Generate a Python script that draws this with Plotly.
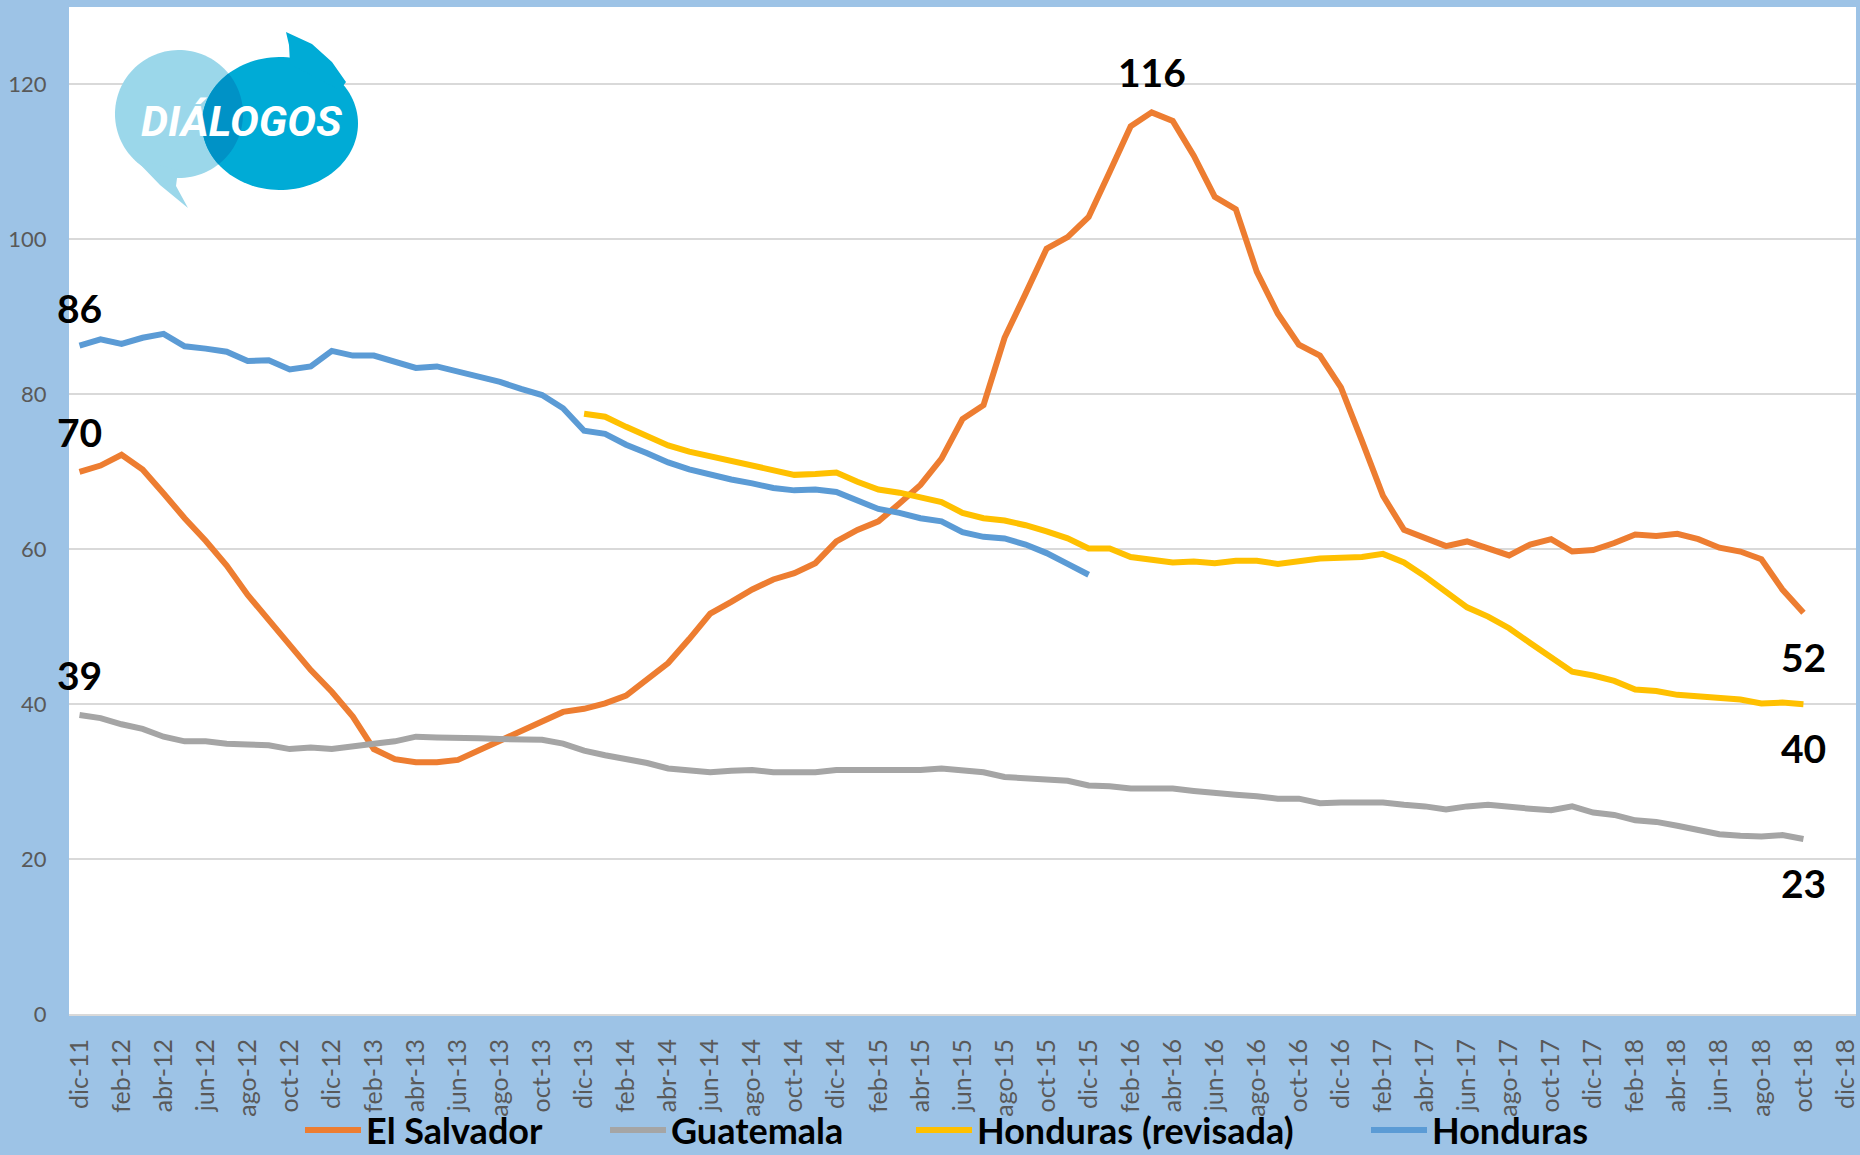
import numpy as np
import plotly.graph_objects as go

# ---------------- data ----------------
months = [
    "dic-11",
    "ene-12", "feb-12", "mar-12", "abr-12", "may-12", "jun-12", "jul-12", "ago-12", "sep-12", "oct-12", "nov-12", "dic-12",
    "ene-13", "feb-13", "mar-13", "abr-13", "may-13", "jun-13", "jul-13", "ago-13", "sep-13", "oct-13", "nov-13", "dic-13",
    "ene-14", "feb-14", "mar-14", "abr-14", "may-14", "jun-14", "jul-14", "ago-14", "sep-14", "oct-14", "nov-14", "dic-14",
    "ene-15", "feb-15", "mar-15", "abr-15", "may-15", "jun-15", "jul-15", "ago-15", "sep-15", "oct-15", "nov-15", "dic-15",
    "ene-16", "feb-16", "mar-16", "abr-16", "may-16", "jun-16", "jul-16", "ago-16", "sep-16", "oct-16", "nov-16", "dic-16",
    "ene-17", "feb-17", "mar-17", "abr-17", "may-17", "jun-17", "jul-17", "ago-17", "sep-17", "oct-17", "nov-17", "dic-17",
    "ene-18", "feb-18", "mar-18", "abr-18", "may-18", "jun-18", "jul-18", "ago-18", "sep-18", "oct-18", "nov-18", "dic-18",
]
tick_labels = months[::2]

# El Salvador: dic-11 .. oct-18
el_salvador = [
    70.0, 70.8, 72.2, 70.3, 67.2, 64.0, 61.1, 57.9, 54.1, 50.9, 47.6, 44.4, 41.6,
    38.4, 34.2, 32.9, 32.5, 32.5, 32.8, 34.0, 35.2, 36.5, 37.6, 39.0, 39.4,
    40.1, 41.1, 43.2, 45.3, 48.4, 51.7, 53.2, 54.8, 56.1, 56.9, 58.2, 61.0,
    62.5, 63.6, 65.9, 68.3, 71.7, 76.8, 78.6, 87.3, 93.0, 98.8, 100.3, 102.9,
    108.7, 114.6, 116.4, 115.3, 110.8, 105.5, 103.9, 95.8, 90.4, 86.4, 85.0, 80.9,
    74.0, 66.9, 62.5, 61.5, 60.4, 61.0, 60.1, 59.2, 60.6, 61.3, 59.7, 59.9,
    60.8, 61.9, 61.7, 62.0, 61.3, 60.2, 59.7, 58.7, 54.8, 51.8,
]
# Guatemala: dic-11 .. oct-18
guatemala = [
    38.6, 38.2, 37.4, 36.8, 35.8, 35.2, 35.2, 34.9, 34.8, 34.7, 34.2, 34.4, 34.2,
    34.6, 34.9, 35.2, 35.8, 35.7, 35.7, 35.6, 35.5, 35.5, 35.4, 34.9, 34.0,
    33.4, 32.9, 32.4, 31.7, 31.5, 31.2, 31.4, 31.5, 31.2, 31.2, 31.2, 31.5,
    31.5, 31.4, 31.4, 31.5, 31.7, 31.5, 31.2, 30.6, 30.4, 30.3, 30.1, 29.5,
    29.4, 29.1, 29.1, 29.1, 28.8, 28.5, 28.3, 28.1, 27.8, 27.8, 27.2, 27.3,
    27.3, 27.3, 27.0, 26.8, 26.4, 26.8, 27.0, 26.7, 26.5, 26.3, 26.8, 26.0,
    25.7, 25.0, 24.8, 24.3, 23.8, 23.2, 23.0, 22.9, 23.1, 22.6,
]
# Honduras (revisada): dic-13 .. oct-18
honduras_rev_start = "dic-13"
honduras_rev = [
    77.5, 77.1, 75.8, 74.7, 73.4, 72.6, 72.0, 71.4, 70.7, 70.2, 69.6, 69.7, 69.9,
    68.7, 67.7, 67.3, 66.7, 66.1, 64.7, 64.0, 63.7, 63.1, 62.3, 61.4, 60.1,
    60.1, 59.0, 58.6, 58.3, 58.4, 58.2, 58.5, 58.5, 58.1, 58.4, 58.8, 58.9,
    59.0, 59.4, 58.3, 56.5, 54.6, 52.5, 51.3, 49.8, 47.9, 46.1, 44.2, 43.7,
    43.0, 41.9, 41.7, 41.2, 41.0, 40.9, 40.6, 40.1, 40.2, 40.0,
]
# Honduras: dic-11 .. dic-15
honduras = [
    86.3, 87.1, 86.5, 87.3, 87.8, 86.2, 85.9, 85.5, 84.3, 84.4, 83.2, 83.6, 85.6,
    85.0, 85.0, 84.1, 83.4, 83.6, 82.9, 82.2, 81.6, 80.7, 79.9, 78.2, 75.3,
    74.9, 73.5, 72.4, 71.2, 70.3, 69.6, 69.0, 68.5, 67.9, 67.6, 67.7, 67.4,
    66.2, 65.2, 64.7, 64.0, 63.6, 62.2, 61.6, 61.4, 60.6, 59.5, 58.1, 56.7,
]

series_names = ["El Salvador", "Guatemala", "Honduras (revisada)", "Honduras"]
series_colors = ["#ED7D31", "#A5A5A5", "#FFC000", "#5B9BD5"]

# ---------------- figure ----------------
W, H = 1860, 1155
M_L, M_R, M_T, M_B = 69, 4, 7, 141
PW, PH = W - M_L - M_R, H - M_T - M_B
BG = "#9DC3E6"


def px(x):
    return (x - M_L) / PW


def py(y):
    return (H - M_B - y) / PH


rev_i0 = months.index(honduras_rev_start)
series_x = [
    months[:len(el_salvador)],
    months[:len(guatemala)],
    months[rev_i0:rev_i0 + len(honduras_rev)],
    months[:len(honduras)],
]
series_y = [el_salvador, guatemala, honduras_rev, honduras]
legend_ids = ["legend", "legend2", "legend3", "legend4"]
legend_line_starts = [306, 611, 917, 1372]

fig = go.Figure()
for name, col, xs, ys, lg in zip(series_names, series_colors, series_x, series_y, legend_ids):
    fig.add_trace(go.Scatter(
        x=xs, y=ys, name=name, mode="lines",
        line=dict(color=col, width=6), legend=lg,
    ))

# data labels (values read from the series)
label_font = dict(family="Lato, Open Sans, sans-serif", size=39, color="#000000")
labels = [
    (series_x[3][0], honduras[0], 38),
    (series_x[0][0], el_salvador[0], 40),
    (series_x[1][0], guatemala[0], 40),
    (series_x[0][int(np.argmax(el_salvador))], max(el_salvador), 40),
    (series_x[0][-1], el_salvador[-1], -44),
    (series_x[2][-1], honduras_rev[-1], -44),
    (series_x[1][-1], guatemala[-1], -44),
]
for xv, yv, ys in labels:
    fig.add_annotation(x=xv, y=yv, text=f"<b>{yv:.0f}</b>", showarrow=False,
                       yshift=ys, font=label_font, xanchor="center", yanchor="middle")

# ---------------- logo (decoration) ----------------
light_c, light_r = (179.0, 114.0), 64.0
dark_c, dark_rx, dark_ry = (280.0, 123.5), 78.0, 66.5
LIGHT, DARK, OVER = "#9BD7EA", "#00ABD6", "#0092C6"


def path_from(pts, close=True):
    s = "M " + " L ".join(f"{px(a):.5f},{py(b):.5f}" for a, b in pts)
    return s + (" Z" if close else "")


t = np.linspace(0, 2 * np.pi, 120)
circ = [(light_c[0] + light_r * np.cos(a), light_c[1] + light_r * np.sin(a)) for a in t]
fig.add_shape(type="path", xref="paper", yref="paper", path=path_from(circ),
              fillcolor=LIGHT, line=dict(width=0), layer="above")
tail1 = [(134, 158), (160, 185), (188, 208), (176, 186), (178, 170)]
fig.add_shape(type="path", xref="paper", yref="paper", path=path_from(tail1),
              fillcolor=LIGHT, line=dict(width=0), layer="above")
ell = [(dark_c[0] + dark_rx * np.cos(a), dark_c[1] + dark_ry * np.sin(a)) for a in t]
fig.add_shape(type="path", xref="paper", yref="paper", path=path_from(ell),
              fillcolor=DARK, line=dict(width=0), layer="above")
tail2 = [(290, 64), (289, 45), (286, 32), (312, 44), (332, 62), (346, 82), (340, 90)]
fig.add_shape(type="path", xref="paper", yref="paper", path=path_from(tail2),
              fillcolor=DARK, line=dict(width=0), layer="above")
tt = np.linspace(0, 2 * np.pi, 720)
lens = []
for a in tt:
    x, y = light_c[0] + light_r * np.cos(a), light_c[1] + light_r * np.sin(a)
    if ((x - dark_c[0]) / dark_rx) ** 2 + ((y - dark_c[1]) / dark_ry) ** 2 <= 1:
        lens.append((x, y))
    x, y = dark_c[0] + dark_rx * np.cos(a), dark_c[1] + dark_ry * np.sin(a)
    if (x - light_c[0]) ** 2 + (y - light_c[1]) ** 2 <= light_r ** 2:
        lens.append((x, y))
cx = np.mean([p[0] for p in lens])
cy = np.mean([p[1] for p in lens])
lens.sort(key=lambda p: np.arctan2(p[1] - cy, p[0] - cx))
fig.add_shape(type="path", xref="paper", yref="paper", path=path_from(lens),
              fillcolor=OVER, line=dict(width=0), layer="above")
fig.add_annotation(xref="paper", yref="paper", x=px(241), y=py(121),
                   text="<b><i>DIÁLOGOS</i></b>", showarrow=False,
                   font=dict(family="Roboto, sans-serif", size=43, color="#FFFFFF"),
                   xanchor="center", yanchor="middle")

# ---------------- layout ----------------
legend_font = dict(family="Lato, Open Sans, sans-serif", size=36, color="#000000", weight="bold")
legends = {}
for lg, xs in zip(legend_ids, legend_line_starts):
    legends[lg] = dict(
        orientation="h", xanchor="left", yanchor="middle",
        x=px(xs - 6), y=py(1130), font=legend_font,
        itemwidth=56, bgcolor="rgba(0,0,0,0)", borderwidth=0,
    )

fig.update_layout(
    width=W, height=H,
    margin=dict(l=M_L, r=M_R, t=M_T, b=M_B, pad=0, autoexpand=False),
    paper_bgcolor=BG, plot_bgcolor="#FFFFFF",
    showlegend=True,
    **legends,
    xaxis=dict(
        type="category", categoryorder="array", categoryarray=months,
        range=[-0.5, len(months) - 0.5], automargin=False,
        tickmode="array", tickvals=tick_labels, ticktext=tick_labels,
        tickangle=-90, ticks="outside", ticklen=13, tickcolor="rgba(0,0,0,0)",
        tickfont=dict(family="Lato, Open Sans, sans-serif", size=25, color="#595959"),
        showgrid=False, showline=True, linecolor="#D9D9D9", linewidth=2,
        zeroline=False, fixedrange=True,
    ),
    yaxis=dict(
        range=[0, 130], tickmode="linear", tick0=0, dtick=20, automargin=False,
        ticks="outside", ticklen=17, tickcolor="rgba(0,0,0,0)",
        tickfont=dict(family="Lato, Open Sans, sans-serif", size=22, color="#595959"),
        showgrid=True, gridcolor="#D9D9D9", gridwidth=2,
        zeroline=True, zerolinecolor="#D9D9D9", zerolinewidth=2,
        showline=False, fixedrange=True,
    ),
)

fig.write_html(
    "out.html",
    config={"displayModeBar": False},
    post_script="document.body.style.margin='0';document.body.style.overflow='hidden';",
)
